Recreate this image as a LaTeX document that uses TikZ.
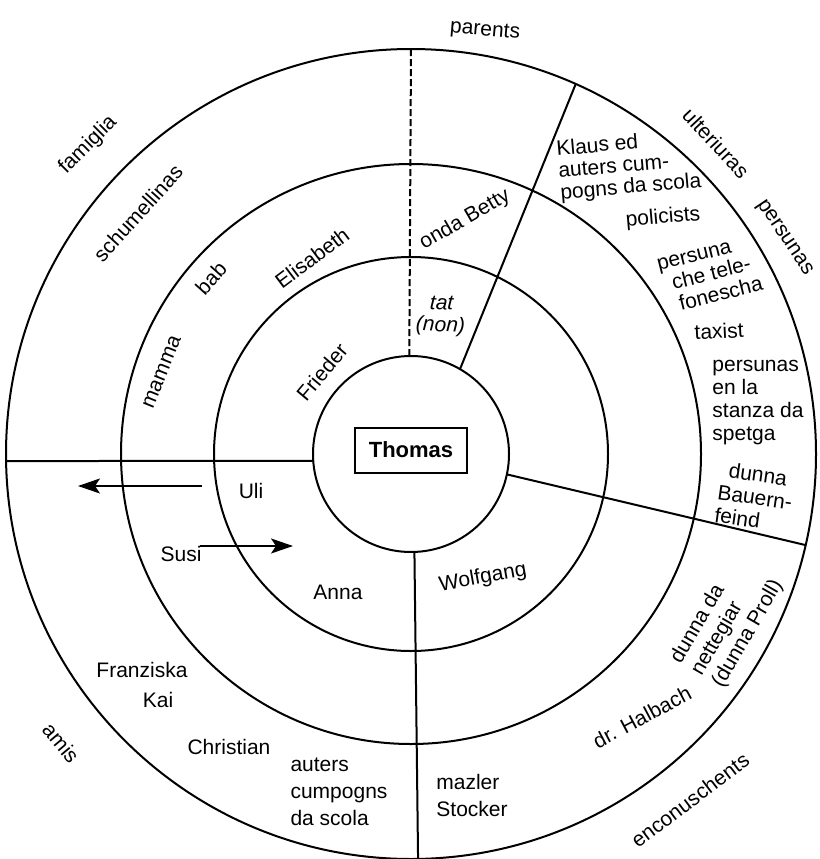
\documentclass[tikz,border=0pt]{standalone}
\usepackage{fontspec}
\setmainfont{Liberation Sans}
\usetikzlibrary{arrows.meta}
\begin{document}
\begin{tikzpicture}[x=1pt,y=-1pt,
  ring/.style={circle, draw, line width=2pt, inner sep=0pt, outer sep=0pt},
  sepline/.style={line width=2pt},
  lbl/.style={inner sep=0pt, font=\fontsize{21}{24}\selectfont},
  lblw/.style={inner sep=0pt, font=\fontsize{21}{27}\selectfont, align=left},
  arr/.style={line width=2pt, -{Stealth[length=22pt,width=15pt,inset=5pt]}},
]
\useasboundingbox (0,0) rectangle (819,859);
\coordinate (c) at (411,454);
\node[ring, minimum size=196pt] (r1) at (c) {};
\node[ring, minimum size=394pt] (r2) at (c) {};
\node[ring, minimum size=580pt] (r3) at (c) {};
\node[ring, minimum size=810pt] (r4) at (c) {};

% separators
\draw[sepline, dash pattern=on 7pt off 3pt] (r1.91.2) -- (r4.90.3);
\draw[sepline] (r1.60.3) -- (r4.66.1);
\draw[sepline] (r1.-12.3) -- (r4.-13.9);
\draw[sepline] (r1.-88.8) -- (r4.-89.7);
\draw[sepline] (r1.184.7) -- (r4.181.1);

% centre
\node[draw, line width=2pt, minimum width=112pt, minimum height=45pt, inner sep=0pt,
      font=\fontsize{22}{24}\selectfont\bfseries] (thomas) at (411,450) {Thomas};

% arrows
\coordinate (ua) at (202,486);
\coordinate (ub) at (78,486);
\coordinate (sa) at (200,546);
\coordinate (sb) at (293,546);
\draw[arr] (ua) -- (ub);
\draw[arr] (sa) -- (sb);

% sector labels
\node[lbl, rotate=-5] (parents) at (485,31) {parents};
\node[lbl, rotate=45] (famiglia) at (88,145) {famiglia};
\node[lbl, rotate=-47] (ulteriuras) at (716,143) {ulteriuras};
\node[lbl, rotate=-56] (persunasR) at (784,238) {persunas};
\node[lbl, rotate=37] (encon) at (690,800) {enconuschents};
\node[lbl, rotate=-50] (amis) at (61,743) {amis};

% family sector
\node[lbl, rotate=48] (schum) at (138,213) {schumellinas};
\node[lbl, rotate=48] (bab) at (211,278) {bab};
\node[lbl, rotate=68] (mamma) at (162,372) {mamma};
\node[lbl, rotate=37] (elis) at (312,258) {Elisabeth};
\node[lbl, rotate=50] (frieder) at (322,372) {Frieder};

% parents sector
\node[lbl, rotate=30] (betty) at (465,220) {onda Betty};
\node[lbl, rotate=-3, align=center, font=\fontsize{21}{22}\selectfont\itshape] (tat) at (441,316) {tat\\(non)};

% further persons
\node[lbl, rotate=5, align=left, font=\fontsize{21}{22}\selectfont] (klaus) at (629,166) {Klaus ed\\auters cum-\\pogns da scola};
\node[lbl, rotate=5] (polic) at (663,218) {policists};
\node[lbl, rotate=14, align=left, font=\fontsize{21}{22}\selectfont] (telef) at (710,275) {persuna\\\hspace*{10pt}che tele-\\\hspace*{12pt}fonescha};
\node[lbl, rotate=3] (taxist) at (719,331) {taxist};
\node[lbl, align=left, font=\fontsize{21}{23}\selectfont] (stanza) at (758,403) {persunas\\en la\\stanza da\\spetga};
\node[lbl, rotate=-8, align=left, font=\fontsize{21}{23}\selectfont] (bauern) at (755,497) {\hspace*{8pt}dunna\\Bauern-\\feind};

% acquaintances
\node[lbl, rotate=60, align=left, font=\fontsize{21}{24}\selectfont] (proll) at (727,622) {dunna da\\nettegiar\\(dunna Proll)};
\node[lbl, rotate=28] (halbach) at (642,717) {dr. Halbach};
\node[lblw] (stocker) at (472,795) {mazler\\Stocker};
\node[lbl, rotate=10] (wolfgang) at (483,578) {Wolfgang};

% friends
\node[lbl] (anna) at (338,592) {Anna};
\node[lbl] (uli) at (251,491) {Uli};
\node[lbl] (susi) at (181,554) {Susi};
\node[lbl] (franz) at (142,670) {Franziska};
\node[lbl] (kai) at (158,700) {Kai};
\node[lbl] (christian) at (229,747) {Christian};
\node[lblw] (auters) at (339,792) {auters\\cumpogns\\da scola};
\end{tikzpicture}
\end{document}
